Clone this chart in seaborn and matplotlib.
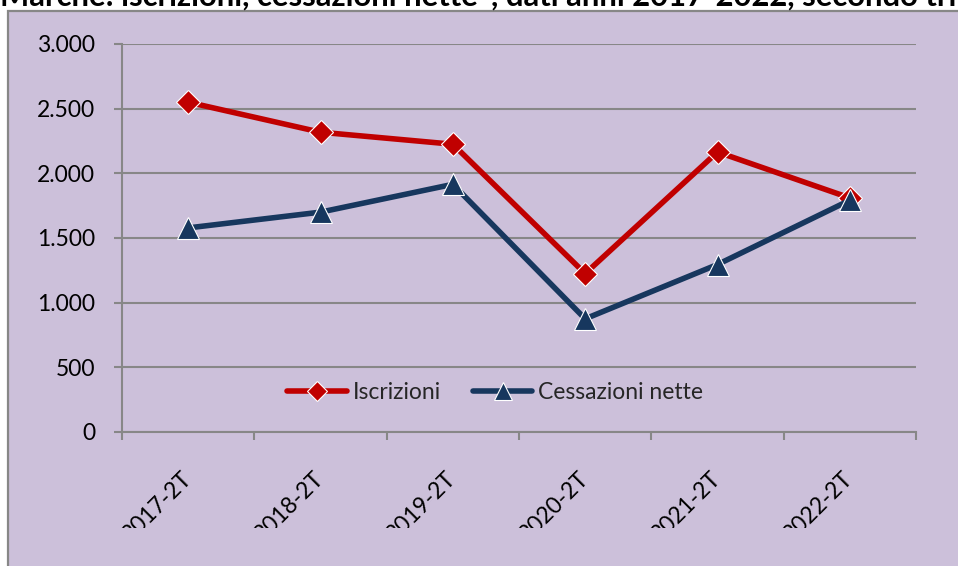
import matplotlib
matplotlib.use("Agg")
import matplotlib.pyplot as plt
import seaborn as sns
import pandas as pd
from matplotlib.patches import Rectangle
from matplotlib.ticker import FixedLocator
from matplotlib.transforms import Bbox

# ---- data ----
periodi = ["2017-2T", "2018-2T", "2019-2T", "2020-2T", "2021-2T", "2022-2T"]
iscrizioni = [2550, 2318, 2225, 1225, 2165, 1810]
cessazioni_nette = [1578, 1700, 1915, 875, 1295, 1792]
serie_nomi = ["Iscrizioni", "Cessazioni nette"]
y_ticks = [0, 500, 1000, 1500, 2000, 2500, 3000]
y_labels = ["0", "500", "1.000", "1.500", "2.000", "2.500", "3.000"]
titolo = "Marche: iscrizioni, cessazioni nette*, dati anni 2017-2022, secondo trimestre"

df = pd.DataFrame({
    "periodo": periodi * 2,
    "valore": iscrizioni + cessazioni_nette,
    "serie": [serie_nomi[0]] * len(periodi) + [serie_nomi[1]] * len(periodi),
})

sns.set_theme(style="white")
plt.rcParams["font.family"] = ["Lato", "DejaVu Sans"]

BG = "#CCC0DA"
GRID = "#878787"
RED = "#C00000"
BLUE = "#17375E"
FS = 16.5
MS = [12, 15.5]

fig = plt.figure(figsize=(9.58, 5.66), dpi=100)
fig.patch.set_facecolor("white")
W, H = 958, 566
bg = Rectangle((7.5 / W, -0.05), 1.2, 1 - 10.5 / H + 0.05,
               transform=fig.transFigure, facecolor=BG,
               edgecolor=GRID, linewidth=1.6, zorder=-10)
fig.patches.append(bg)

fig.text(0.0, 1 - 6 / H, titolo, fontsize=22.3, fontweight="bold",
         ha="left", va="baseline", color="black", zorder=-5)

ax = fig.add_axes([122 / W, 1 - 432 / H, (916 - 122) / W, (432 - 44) / H])
ax.set_facecolor("none")
ax.set_zorder(1)

sns.lineplot(data=df, x="periodo", y="valore", hue="serie", style="serie",
             hue_order=serie_nomi, style_order=serie_nomi,
             palette={serie_nomi[0]: RED, serie_nomi[1]: BLUE},
             markers={serie_nomi[0]: "D", serie_nomi[1]: "^"},
             dashes=False, sort=False, linewidth=4,
             markersize=12, markeredgewidth=0.8, ax=ax)

for ln, ms in zip(ax.lines, MS):
    ln.set_markersize(ms)

ax.set_xlim(-0.5, len(periodi) - 0.5)
ax.set_ylim(0, 3000)
ax.set_yticks(y_ticks, y_labels)
ax.yaxis.grid(True, color=GRID, linewidth=1.5)
ax.xaxis.grid(False)
ax.set_axisbelow(True)
ax.set_xlabel("")
ax.set_ylabel("")

for s in ["top", "right"]:
    ax.spines[s].set_visible(False)
for s in ["left", "bottom"]:
    ax.spines[s].set_color(GRID)
    ax.spines[s].set_linewidth(1.5)

ax.tick_params(axis="y", length=5.8, width=1.5, color=GRID, pad=13.5,
               labelsize=FS, labelcolor="black", left=True)
ax.xaxis.set_minor_locator(FixedLocator([i - 0.5 for i in range(len(periodi) + 1)]))
ax.tick_params(axis="x", which="minor", length=5.8, width=1.5, color=GRID,
               direction="out", bottom=True)
ax.tick_params(axis="x", which="major", length=0, pad=31, labelsize=FS,
               labelcolor="black")
ax.set_xticks(range(len(periodi)), periodi)
clip = Bbox.from_extents(0, 38, W, H)
for t in ax.get_xticklabels():
    t.set_rotation(45)
    t.set_ha("right")
    t.set_va("center")
    t.set_rotation_mode("anchor")
    t.set_clip_box(clip)
    t.set_clip_on(True)

handles, labels = ax.get_legend_handles_labels()
for h, ms in zip(handles, [10.5, 13.5]):
    h.set_markersize(ms)
    h.set_linewidth(4)
ax.legend(handles, labels, loc="center", bbox_to_anchor=(0.47, 0.103),
          ncol=2, frameon=False, fontsize=FS, handlelength=2.6,
          handletextpad=0.25, columnspacing=1.4)

fig.savefig("out.png", dpi=100)
